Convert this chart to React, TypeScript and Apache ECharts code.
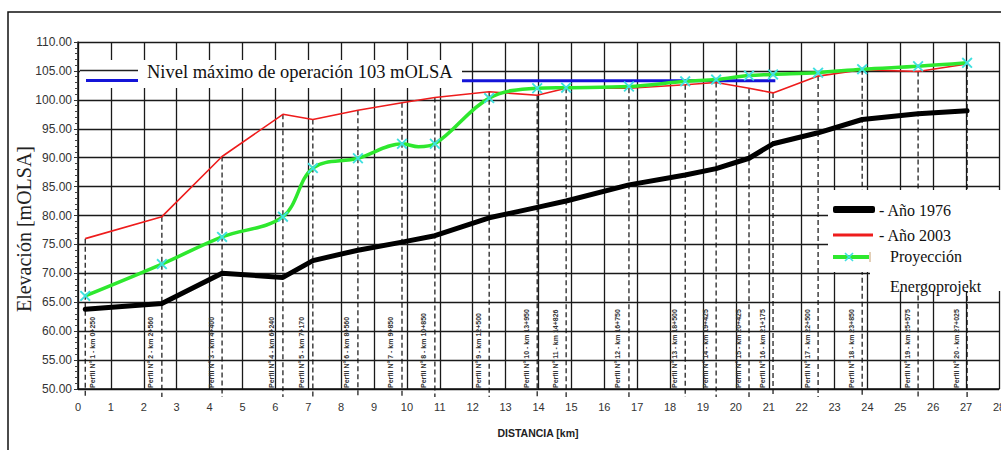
import React, { useEffect, useRef } from "react";
import * as echarts from "echarts";

// ---------- data ----------
const profileKm = [0.22, 2.55, 4.38, 6.23, 7.14, 8.51, 9.85, 10.85, 12.5, 13.96, 14.84, 16.75, 18.46, 19.4, 20.4, 21.13, 22.5, 23.84, 25.54, 27.03];
const profileLabels = [
  "Perfil N° 1 - km 0+250",
  "Perfil N° 2 - km 2+560",
  "Perfil N° 3 - km 4+400",
  "Perfil N° 4 - km 6+240",
  "Perfil N° 5 - km 7+170",
  "Perfil N° 6 - km 8+560",
  "Perfil N° 7 - km 9+850",
  "Perfil N° 8 - km 10+850",
  "Perfil N° 9 - km 12+500",
  "Perfil N° 10 - km 13+950",
  "Perfil N° 11 - km 14+826",
  "Perfil N° 12 - km 16+750",
  "Perfil N° 13 - km 18+500",
  "Perfil N° 14 - km 19+425",
  "Perfil N° 15 - km 20+425",
  "Perfil N° 16 - km 21+175",
  "Perfil N° 17 - km 22+500",
  "Perfil N° 18 - km 23+850",
  "Perfil N° 19 - km 25+575",
  "Perfil N° 20 - km 27+025",
];
const elev1976 = [63.8, 64.8, 70.0, 69.3, 72.2, 74.0, 75.4, 76.5, 79.6, 81.4, 82.5, 85.3, 87.0, 88.1, 89.9, 92.4, 94.3, 96.6, 97.6, 98.1];
const elev2003 = [76.0, 79.8, 90.2, 97.5, 96.6, 98.2, 99.5, 100.4, 101.4, 100.8, 102.0, 102.0, 102.6, 103.0, 102.0, 101.2, 104.1, 105.2, 104.9, 106.2];
const elevProj = [66.1, 71.6, 76.3, 79.8, 88.2, 89.9, 92.4, 92.4, 100.3, 102.0, 102.1, 102.3, 103.2, 103.5, 104.2, 104.4, 104.7, 105.3, 105.8, 106.4];
const projBendKm = 10.35;
const projBendElev = 91.9;
const levelKm = [0.25, 21.2];
const levelElev = 103.3;
const levelText = "Nivel máximo de operación 103 mOLSA";
const legendNames = ["- Año 1976", "- Año 2003", "Proyección", "Energoprojekt"];
const xName = "DISTANCIA [km]";
const yName = "Elevación [mOLSA]";

const SERIF = "'Liberation Serif', 'Times New Roman', serif";
const SANS = "'Liberation Sans', Arial, sans-serif";
const X_PATH = "path://M0,1.2L1.2,0L5,3.8L8.8,0L10,1.2L6.2,5L10,8.8L8.8,10L5,6.2L1.2,10L0,8.8L3.8,5Z";

export default function App() {
  const ref = useRef<HTMLDivElement>(null);
  useEffect(() => {
    if (!ref.current) return;
    const chart = echarts.init(ref.current, undefined, { renderer: "svg" });

    const projData: any[] = [];
    profileKm.forEach((k, i) => {
      projData.push([k, elevProj[i]]);
      if (k < projBendKm && profileKm[i + 1] > projBendKm) {
        projData.push({ value: [projBendKm, projBendElev], symbol: "none" });
      }
    });

    const option: any = {
      animation: false,
      backgroundColor: "#ffffff",
      grid: { left: 78, top: 42, right: 2, bottom: 61, containLabel: false, outerBoundsMode: "none" },
      xAxis: {
        type: "value",
        min: 0,
        max: 28,
        interval: 1,
        axisLine: { show: true, lineStyle: { color: "#111", width: 1.5 } },
        axisTick: { show: false },
        axisLabel: { margin: 12, color: "#333", fontSize: 11, fontFamily: SANS },
        splitLine: { show: true, lineStyle: { color: "#1a1a1a", width: 1.3 } },
      },
      yAxis: {
        type: "value",
        min: 50,
        max: 110,
        interval: 5,
        axisLine: { show: true, lineStyle: { color: "#111", width: 1.5 } },
        axisTick: { show: true, length: 4, lineStyle: { color: "#333" } },
        minorTick: { show: true, splitNumber: 5, length: 3, lineStyle: { color: "#444" } },
        axisLabel: {
          margin: 6,
          color: "#333",
          fontSize: 12,
          fontFamily: SANS,
          formatter: (v: number) => v.toFixed(2),
        },
        splitLine: { show: true, lineStyle: { color: "#1a1a1a", width: 1.3 } },
      },
      series: [
        {
          type: "custom",
          name: "perfiles",
          silent: true,
          clip: false,
          z: 3,
          encode: { x: 0, y: 1 },
          data: profileKm.map((k, i) => [k, elev2003[i], i]),
          renderItem: (params: any, api: any) => {
            const x = api.value(0);
            const top = api.value(1);
            const idx = api.value(2);
            const p = api.coord([x, top]);
            const b = api.coord([x, 50]);
            const lx = idx === 0 ? p[0] + 7 : p[0] - 11;
            return {
              type: "group",
              children: [
                {
                  type: "line",
                  shape: { x1: p[0], y1: p[1], x2: p[0], y2: b[1] + 8 },
                  style: { stroke: "#111", lineWidth: 1.2, lineDash: [5, 3] },
                },
                {
                  type: "text",
                  x: lx,
                  y: b[1] - 1,
                  rotation: Math.PI / 2,
                  style: {
                    text: profileLabels[idx],
                    fill: "#333",
                    fontSize: 7,
                    fontWeight: "bold",
                    fontFamily: SANS,
                    align: "left",
                    verticalAlign: "middle",
                  },
                },
              ],
            };
          },
        },
        {
          type: "line",
          name: "nivel",
          data: levelKm.map((k) => [k, levelElev]),
          symbol: "none",
          lineStyle: { color: "#1414d8", width: 3 },
          z: 4,
        },
        {
          type: "line",
          name: "1976",
          data: profileKm.map((k, i) => [k, elev1976[i]]),
          symbol: "none",
          lineStyle: { color: "#000", width: 5, join: "round", cap: "round" },
          z: 4,
        },
        {
          type: "line",
          name: "2003",
          data: profileKm.map((k, i) => [k, elev2003[i]]),
          symbol: "none",
          lineStyle: { color: "#ee1c1c", width: 1.6 },
          z: 5,
        },
        {
          type: "line",
          name: "proy",
          data: projData,
          smooth: 0.35,
          symbol: X_PATH,
          symbolSize: 11,
          showSymbol: true,
          itemStyle: { color: "#3fe0e0" },
          lineStyle: { color: "#2ee82e", width: 3.5 },
          z: 6,
        },
      ],
      graphic: {
        elements: [
          // outer frame
          { type: "rect", shape: { x: 8, y: 12, width: 1100, height: 500 }, style: { fill: "none", stroke: "#111", lineWidth: 1.5 }, z: 50, silent: true },
          // level label box
          { type: "rect", shape: { x: 80, y: 60, width: 382, height: 28 }, style: { fill: "#fff" }, z: 100, silent: true },
          { type: "line", shape: { x1: 80, y1: 70.5, x2: 138, y2: 70.5 }, style: { stroke: "#222", lineWidth: 1.4 }, z: 101, silent: true },
          { type: "line", shape: { x1: 86, y1: 80.5, x2: 138, y2: 80.5 }, style: { stroke: "#1414d8", lineWidth: 3 }, z: 101, silent: true },
          { type: "text", x: 147, y: 72, style: { text: levelText, fill: "#111", fontSize: 18.5, fontFamily: SERIF, align: "left", verticalAlign: "middle" }, z: 102, silent: true },
          // legend box
          { type: "rect", shape: { x: 828, y: 190, width: 180, height: 82 }, style: { fill: "#fff" }, z: 100, silent: true },
          { type: "rect", shape: { x: 870, y: 270, width: 140, height: 21 }, style: { fill: "#fff" }, z: 100, silent: true },
          { type: "rect", shape: { x: 833, y: 206, width: 42, height: 7, r: 2 }, style: { fill: "#000" }, z: 101, silent: true },
          { type: "text", x: 879, y: 210, style: { text: legendNames[0], fill: "#111", fontSize: 16, fontFamily: SERIF, align: "left", verticalAlign: "middle" }, z: 102, silent: true },
          { type: "line", shape: { x1: 833, y1: 235, x2: 873, y2: 235 }, style: { stroke: "#ee1c1c", lineWidth: 3 }, z: 101, silent: true },
          { type: "text", x: 879, y: 235, style: { text: legendNames[1], fill: "#111", fontSize: 16, fontFamily: SERIF, align: "left", verticalAlign: "middle" }, z: 102, silent: true },
          { type: "line", shape: { x1: 833, y1: 257, x2: 869, y2: 257 }, style: { stroke: "#2ee82e", lineWidth: 4 }, z: 101, silent: true },
          { type: "line", shape: { x1: 845, y1: 253, x2: 853, y2: 261 }, style: { stroke: "#3fe0e0", lineWidth: 1.6 }, z: 102, silent: true },
          { type: "line", shape: { x1: 853, y1: 253, x2: 845, y2: 261 }, style: { stroke: "#3fe0e0", lineWidth: 1.6 }, z: 102, silent: true },
          { type: "line", shape: { x1: 870, y1: 252, x2: 870, y2: 262 }, style: { stroke: "#c8a070", lineWidth: 1 }, z: 102, silent: true },
          { type: "text", x: 890, y: 256, style: { text: legendNames[2], fill: "#111", fontSize: 16, fontFamily: SERIF, align: "left", verticalAlign: "middle" }, z: 102, silent: true },
          { type: "text", x: 890, y: 278, style: { text: legendNames[3], fill: "#111", fontSize: 16, fontFamily: SERIF, align: "left", verticalAlign: "top" }, z: 102, silent: true },
          // axis names
          { type: "text", x: 538, y: 433, style: { text: xName, fill: "#222", fontSize: 10.5, fontWeight: "bold", fontFamily: SANS, align: "center", verticalAlign: "middle" }, z: 102, silent: true },
          { type: "text", x: 24, y: 229, rotation: Math.PI / 2, style: { text: yName, fill: "#222", fontSize: 20, fontFamily: SERIF, align: "center", verticalAlign: "middle" }, z: 102, silent: true },
        ],
      },
    };
    chart.setOption(option);
    return () => chart.dispose();
  }, []);
  return <div ref={ref} style={{ position: "fixed", left: 0, top: 0, width: 1001, height: 450, background: "#fff" }} />;
}
